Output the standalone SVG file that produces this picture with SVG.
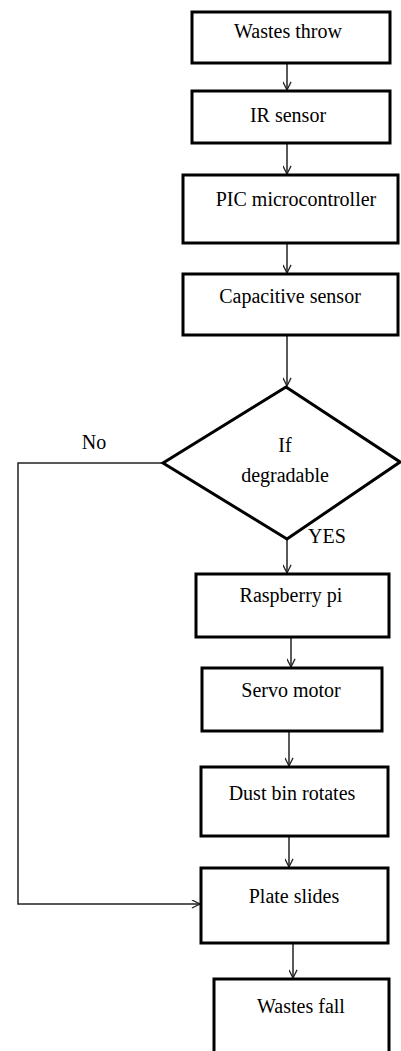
<svg xmlns="http://www.w3.org/2000/svg" width="401" height="1051" viewBox="0 0 401 1051">
<defs>
<marker id="ah" viewBox="0 0 10 10" refX="10" refY="5" markerWidth="9" markerHeight="9" markerUnits="userSpaceOnUse" orient="auto">
<path d="M1,0.5 L10,5 L1,9.5" fill="none" stroke="#222" stroke-width="1.4"/>
</marker>
</defs>
<style>
.box{fill:#fff;stroke:#000;stroke-width:3}
.lbl{font-family:"Liberation Serif","Times New Roman",serif;font-size:20px;fill:#000;text-anchor:middle}
.con{fill:none;stroke:#222;stroke-width:1.5;marker-end:url(#ah)}
</style>
<rect width="401" height="1051" fill="#fff"/>
<g id="connectors">
<line class="con" x1="287" y1="63" x2="287" y2="90"/>
<line class="con" x1="287" y1="143" x2="287" y2="174"/>
<line class="con" x1="287" y1="243" x2="287" y2="273"/>
<line class="con" x1="287" y1="335" x2="287" y2="386"/>
<line class="con" x1="287" y1="539" x2="287" y2="573"/>
<line class="con" x1="291" y1="637" x2="291" y2="667"/>
<line class="con" x1="289" y1="731" x2="289" y2="766"/>
<line class="con" x1="289" y1="836" x2="289" y2="867"/>
<line class="con" x1="293" y1="933" x2="293" y2="978"/>
<polyline class="con" points="163,463 18,463 18,904 200,904"/>
</g>
<g id="n1"><rect class="box" x="192" y="12" width="198" height="51"/><text class="lbl" x="288" y="38">Wastes throw</text></g>
<g id="n2"><rect class="box" x="192" y="91" width="198" height="52"/><text class="lbl" x="288" y="122">IR sensor</text></g>
<g id="n3"><rect class="box" x="183" y="175" width="215" height="68"/><text class="lbl" x="296" y="206">PIC microcontroller</text></g>
<g id="n4"><rect class="box" x="183" y="274" width="215" height="61"/><text class="lbl" x="290" y="303">Capacitive sensor</text></g>
<g id="n5"><polygon class="box" points="286,387 400,462 287,539 163,463"/><text class="lbl" x="285" y="452">If</text><text class="lbl" x="285" y="482">degradable</text></g>
<g id="lblNo"><text class="lbl" x="94" y="449">No</text></g>
<g id="lblYes"><text class="lbl" x="327" y="543">YES</text></g>
<g id="n6"><rect class="box" x="196" y="574" width="193" height="63"/><text class="lbl" x="291" y="602">Raspberry  pi</text></g>
<g id="n7"><rect class="box" x="202" y="668" width="180" height="63"/><text class="lbl" x="291" y="697">Servo motor</text></g>
<g id="n8"><rect class="box" x="201" y="767" width="187" height="69"/><text class="lbl" x="292" y="800">Dust bin rotates</text></g>
<g id="n9"><rect class="box" x="201" y="868" width="187" height="75"/><text class="lbl" x="294" y="903">Plate slides</text></g>
<g id="n10"><rect class="box" x="214" y="979" width="175" height="90"/><text class="lbl" x="301" y="1013">Wastes fall</text></g>
</svg>
